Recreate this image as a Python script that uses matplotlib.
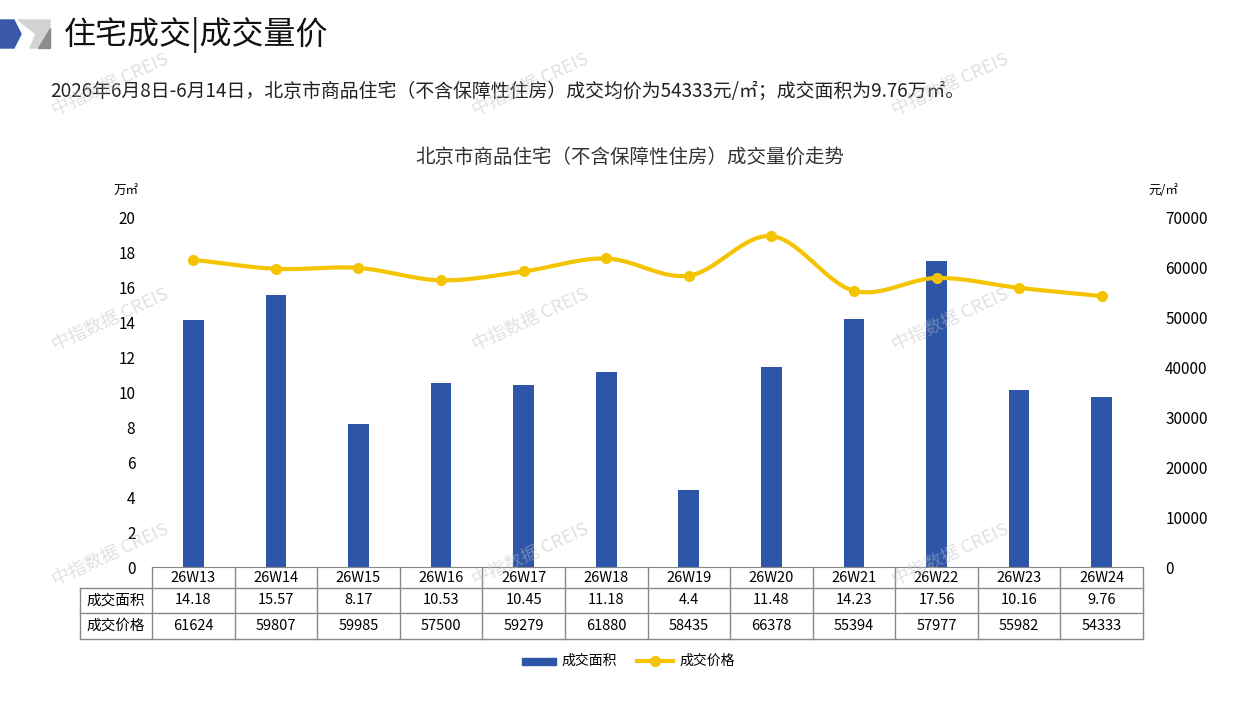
import numpy as np
import matplotlib.pyplot as plt
from matplotlib.patches import Polygon

plt.rcParams['font.family'] = ['Noto Sans CJK SC', 'DejaVu Sans']

weeks = ['26W13', '26W14', '26W15', '26W16', '26W17', '26W18', '26W19', '26W20', '26W21', '26W22', '26W23', '26W24']
area = [14.18, 15.57, 8.17, 10.53, 10.45, 11.18, 4.4, 11.48, 14.23, 17.56, 10.16, 9.76]
price = [61624, 59807, 59985, 57500, 59279, 61880, 58435, 66378, 55394, 57977, 55982, 54333]
area_labels = ['14.18', '15.57', '8.17', '10.53', '10.45', '11.18', '4.4', '11.48', '14.23', '17.56', '10.16', '9.76']

W, H = 1257, 706
blue = '#2E56A8'
yellow = '#F5C400'

def fx(px):
    return px / W

def fy(py):
    return 1 - py / H

fig = plt.figure(figsize=(W / 100, H / 100), dpi=100)

# header icon
fig.patches.append(Polygon([[fx(0), fy(20)], [fx(14), fy(20)], [fx(21), fy(34)], [fx(14), fy(48)], [fx(0), fy(48)]],
                           closed=True, transform=fig.transFigure, color='#3A57A8'))
fig.patches.append(Polygon([[fx(18), fy(20)], [fx(50), fy(20)], [fx(50), fy(48)], [fx(30), fy(48)], [fx(36), fy(34)]],
                           closed=True, transform=fig.transFigure, color='#D3D3D3'))
fig.patches.append(Polygon([[fx(50), fy(28)], [fx(50), fy(48)], [fx(38), fy(48)]],
                           closed=True, transform=fig.transFigure, color='#8C8C8C'))
fig.text(fx(64), fy(35), '住宅成交|成交量价', fontsize=23, va='center', color='#111111')
fig.text(fx(50), fy(91), '2026年6月8日-6月14日，北京市商品住宅（不含保障性住房）成交均价为54333元/㎡；成交面积为9.76万㎡。',
         fontsize=13.6, va='center', color='#222222')
fig.text(fx(630), fy(157), '北京市商品住宅（不含保障性住房）成交量价走势', fontsize=14, ha='center', va='center', color='#333333')

ax = fig.add_axes([fx(152), fy(567), fx(1143) - fx(152), (567 - 218) / H])
x = np.arange(len(weeks))
ax.bar(x, area, width=0.25, color=blue, zorder=2)
ax.set_xlim(-0.5, len(weeks) - 0.5)
ax.set_ylim(0, 20)
ax.set_yticks(range(0, 21, 2))
ax.set_xticks([])
for s in ['top', 'right', 'left']:
    ax.spines[s].set_visible(False)
ax.spines['bottom'].set_color('#888888')
ax.tick_params(axis='y', length=0, labelsize=11, pad=12)

ax2 = ax.twinx()
ax2.set_ylim(0, 70000)
ax2.set_yticks(range(0, 70001, 10000))
for s in ax2.spines.values():
    s.set_visible(False)
ax2.tick_params(axis='y', length=0, labelsize=11, pad=16)

# smooth line through data points (Catmull-Rom)
px = np.array(x, dtype=float)
py = np.array(price, dtype=float)
P = np.vstack([px, py]).T
P = np.vstack([P[0] - (P[1] - P[0]), P, P[-1] + (P[-1] - P[-2])])
sx, sy = [], []
for i in range(1, len(P) - 2):
    p0, p1, p2, p3 = P[i - 1], P[i], P[i + 1], P[i + 2]
    for t in np.linspace(0, 1, 20):
        c = 0.5 * ((2 * p1) + (-p0 + p2) * t + (2 * p0 - 5 * p1 + 4 * p2 - p3) * t ** 2
                   + (-p0 + 3 * p1 - 3 * p2 + p3) * t ** 3)
        sx.append(c[0])
        sy.append(c[1])
ax2.plot(sx, sy, color=yellow, lw=3, zorder=3)
ax2.plot(px, py, 'o', color=yellow, ms=7, zorder=4)

fig.text(fx(126), fy(191), '万㎡', fontsize=9, ha='center', va='center')
fig.text(fx(1163), fy(191), '元/㎡', fontsize=9, ha='center', va='center')

# data table
rows_y = [567, 588, 613, 639]
col_x = [152 + i * (991 / 12) for i in range(13)]
lc = '#888888'
for yv in rows_y[1:]:
    fig.add_artist(plt.Line2D([fx(80), fx(1143)], [fy(yv), fy(yv)], transform=fig.transFigure, color=lc, lw=1))
fig.add_artist(plt.Line2D([fx(80), fx(80)], [fy(588), fy(639)], transform=fig.transFigure, color=lc, lw=1))
for i, cx in enumerate(col_x):
    fig.add_artist(plt.Line2D([fx(cx), fx(cx)], [fy(567), fy(639)], transform=fig.transFigure, color=lc, lw=1))
for i in range(12):
    cx = (col_x[i] + col_x[i + 1]) / 2
    fig.text(fx(cx), fy(577.5), weeks[i], fontsize=10.5, ha='center', va='center')
    fig.text(fx(cx), fy(600.5), area_labels[i], fontsize=10.5, ha='center', va='center')
    fig.text(fx(cx), fy(626), str(price[i]), fontsize=10.5, ha='center', va='center')
fig.text(fx(116), fy(600.5), '成交面积', fontsize=10.5, ha='center', va='center')
fig.text(fx(116), fy(626), '成交价格', fontsize=10.5, ha='center', va='center')

# legend
fig.patches.append(plt.Rectangle((fx(522), fy(665)), fx(34), 7 / H, transform=fig.transFigure, color=blue))
fig.text(fx(561), fy(661), '成交面积', fontsize=10, va='center')
fig.add_artist(plt.Line2D([fx(637), fx(673)], [fy(661), fy(661)], transform=fig.transFigure, color=yellow, lw=3))
fig.add_artist(plt.Line2D([fx(655)], [fy(661)], transform=fig.transFigure, color=yellow, marker='o', ms=7))
fig.text(fx(679), fy(661), '成交价格', fontsize=10, va='center')

# watermarks
for wx in [110, 530, 950]:
    for wy in [85, 320, 555]:
        fig.text(fx(wx), fy(wy), '中指数据 CREIS', fontsize=13, color='#BBBBBB', alpha=0.45,
                 rotation=25, ha='center', va='center', zorder=10)

fig.savefig('out.png', dpi=100)
